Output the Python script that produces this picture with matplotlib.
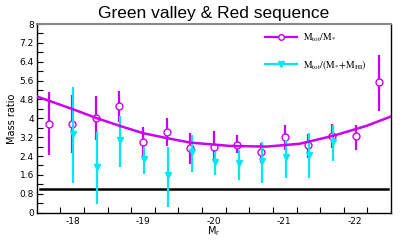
import numpy as np
import matplotlib
matplotlib.use('Agg')
import matplotlib.pyplot as plt
from matplotlib.lines import Line2D
from matplotlib.font_manager import FontProperties

# M_tot/M_* points (bin centres) and error bar ends
mag_x = [-17.66, -17.99, -18.33, -18.66, -19.00, -19.34, -19.67, -20.00,
         -20.34, -20.67, -21.01, -21.34, -21.68, -22.02, -22.35]
mag_y = [3.77, 3.77, 4.01, 4.53, 3.01, 3.44, 2.73, 2.80,
         2.87, 2.56, 3.20, 2.85, 3.27, 3.23, 5.52]
mag_hi = [5.10, 4.98, 4.96, 5.17, 3.63, 4.03, 3.37, 3.48,
          3.30, 2.97, 3.72, 3.34, 3.77, 3.72, 6.70]
mag_lo = [2.45, 2.55, 3.09, 3.86, 2.41, 2.83, 2.07, 2.24,
          2.52, 2.12, 2.66, 2.31, 2.73, 2.66, 4.33]

# M_tot/(M_* + M_HI) points
cy_x = [-18.01, -18.35, -18.68, -19.02, -19.36, -19.69, -20.02, -20.36,
        -20.69, -21.03, -21.36, -21.70]
cy_y = [3.33, 1.95, 3.09, 2.27, 1.59, 2.56, 2.15, 2.10, 2.17, 2.35, 2.46, 3.01]
cy_hi = [5.31, 3.44, 4.08, 2.78, 2.80, 3.30, 2.59, 2.66, 3.01, 3.09, 3.37, 3.72]
cy_lo = [1.25, 0.36, 1.95, 1.64, 0.25, 1.74, 1.60, 1.39, 1.25, 1.46, 1.46, 2.17]

# fitted curve
fit_x = [-17.49, -18.01, -18.34, -18.67, -19.00, -19.34, -19.67, -20.23,
         -20.75, -21.22, -21.70, -22.17, -22.52]
fit_y = [4.93, 4.38, 4.01, 3.68, 3.37, 3.16, 2.97, 2.83,
         2.80, 2.92, 3.26, 3.68, 4.08]

xticks = [-18, -19, -20, -21, -22]
xlim = (-17.49, -22.52)

magenta = '#cc00f0'
cyan = '#00e8f2'

mag_y = np.array(mag_y)
cy_y = np.array(cy_y)
mag_err = [mag_y - np.array(mag_lo), np.array(mag_hi) - mag_y]
cy_err = [cy_y - np.array(cy_lo), np.array(cy_hi) - cy_y]

fig = plt.figure(figsize=(4.07, 2.4), dpi=100)
ax = fig.add_axes([0.090, 0.114, 0.871, 0.786])

ax.axhline(1.0, xmin=0.01, xmax=0.99, color='black', lw=1.8, zorder=1)

ax.errorbar(mag_x, mag_y, yerr=mag_err, fmt='o', color=magenta, ecolor=magenta,
            elinewidth=1.6, capsize=0, ms=5, mfc='white', mec=magenta, mew=1.0,
            zorder=3)
ax.errorbar(cy_x, cy_y, yerr=cy_err, fmt='v', color=cyan, ecolor=cyan,
            elinewidth=1.6, capsize=0, ms=4.5, mfc=cyan, mec=cyan, zorder=4)
ax.plot(fit_x, fit_y, color=magenta, lw=1.8, zorder=5)

ax.set_xlim(xlim)
ax.set_ylim(0, 8)

ax.set_xticks(xticks)
ax.set_xticklabels([str(t) for t in xticks])
ax.set_xticks(np.linspace(xlim[0], xlim[1], 16)[1:-1], minor=True)
ax.tick_params(axis='x', which='major', length=0, labelsize=6.5, pad=3)
ax.tick_params(axis='x', which='minor', direction='in', length=4, width=0.8)

yt = np.arange(0, 8.01, 0.8)
ax.set_yticks(yt)
ax.set_yticklabels(['%g' % round(v, 1) for v in yt])
ax.set_yticks(np.arange(0.4, 8, 0.8), minor=True)
ax.tick_params(axis='y', which='both', direction='in', length=4, width=0.8,
               labelsize=6.5, pad=2)

ax.spines['top'].set_color('#888888')
ax.spines['top'].set_linewidth(1.5)
for s in ['left', 'right', 'bottom']:
    ax.spines[s].set_linewidth(1.0)

ax.set_xlabel('M$_{\\rm r}$', fontsize=7, labelpad=-1)
ax.set_ylabel('Mass ratio', fontsize=7, labelpad=2)
ax.set_title('Green valley & Red sequence', fontsize=12.5,
             family='Liberation Sans', pad=4)

handles = [Line2D([], [], color=magenta, lw=1.6, marker='o', ms=4,
                  mfc='white', mec=magenta),
           Line2D([], [], color=cyan, lw=1.6, marker='v', ms=4,
                  mfc=cyan, mec=cyan)]
labels = [r'$\mathrm{M_{tot}/M_{*}}$', r'$\mathrm{M_{tot}/(M_{*}\!+\!M_{HI})}$']
prop = FontProperties(family='Liberation Serif', size=7, math_fontfamily='stix')
ax.legend(handles, labels, prop=prop, frameon=False, loc='upper left',
          bbox_to_anchor=(258 / 407, 1 - 25 / 240), bbox_transform=fig.transFigure,
          handlelength=3.3, handletextpad=0.6, labelspacing=1.4, borderpad=0.2)

fig.savefig('out.png', dpi=100)
